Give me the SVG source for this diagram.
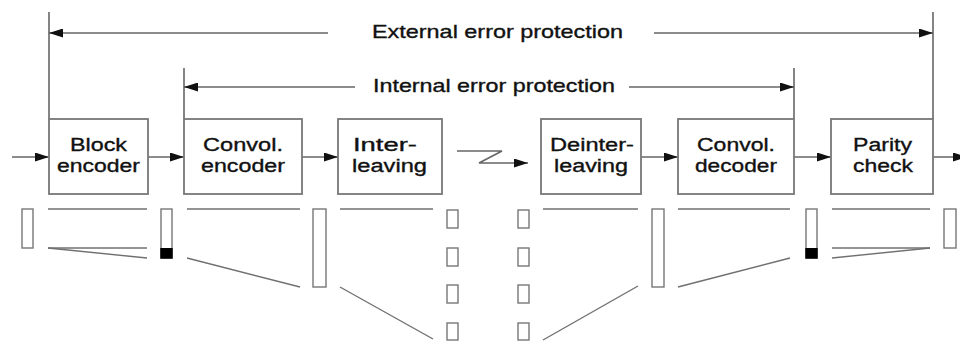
<svg xmlns="http://www.w3.org/2000/svg" width="960" height="343" viewBox="0 0 960 343">
<defs>
<marker id="ah" viewBox="0 0 14 9" refX="14" refY="4.5" markerWidth="14" markerHeight="9" markerUnits="userSpaceOnUse" orient="auto">
<path d="M0,0 L14,4.5 L0,9 Z" fill="#111"/>
</marker>
<style>
.box{fill:#fff;stroke:#777;stroke-width:1.8}
.ln{fill:none;stroke:#666;stroke-width:1.6}
.thin{fill:none;stroke:#707070;stroke-width:1.4}
.cell{fill:#fff;stroke:#777;stroke-width:1.4}
.blk{fill:#000}
.t{font-family:"Liberation Sans",Arial,sans-serif;font-size:18.8px;fill:#111;stroke:#111;stroke-width:0.35;text-anchor:middle}
.h{font-family:"Liberation Sans",Arial,sans-serif;font-size:19px;fill:#111;stroke:#111;stroke-width:0.35}
</style>
</defs>
<rect width="960" height="343" fill="#fff"/>
<g id="connectors">
<line class="ln" x1="49" y1="12" x2="49" y2="119"/>
<line class="ln" x1="933" y1="12" x2="933" y2="119"/>
<line class="ln" x1="184" y1="68" x2="184" y2="119"/>
<line class="ln" x1="794" y1="68" x2="794" y2="119"/>
<line class="ln" x1="328" y1="33" x2="49" y2="33" marker-end="url(#ah)"/>
<line class="ln" x1="654" y1="33" x2="933" y2="33" marker-end="url(#ah)"/>
<line class="ln" x1="355" y1="87" x2="184" y2="87" marker-end="url(#ah)"/>
<line class="ln" x1="629" y1="87" x2="794" y2="87" marker-end="url(#ah)"/>
<line class="ln" x1="12" y1="157" x2="49" y2="157" marker-end="url(#ah)"/>
<line class="ln" x1="148" y1="157" x2="184" y2="157" marker-end="url(#ah)"/>
<line class="ln" x1="302" y1="157" x2="338" y2="157" marker-end="url(#ah)"/>
<polyline class="ln" points="457,151 502,151 479,163 528,163" marker-end="url(#ah)"/>
<line class="ln" x1="641" y1="157" x2="678" y2="157" marker-end="url(#ah)"/>
<line class="ln" x1="794" y1="157" x2="831" y2="157" marker-end="url(#ah)"/>
<line class="ln" x1="933" y1="157" x2="967" y2="157" marker-end="url(#ah)"/>
</g>
<g id="label-external">
<text class="h" x="372" y="38" textLength="251" lengthAdjust="spacingAndGlyphs">External error protection</text>
</g>
<g id="label-internal">
<text class="h" x="373" y="92" textLength="242" lengthAdjust="spacingAndGlyphs">Internal error protection</text>
</g>
<g id="block-encoder">
<rect class="box" x="49" y="119" width="99" height="75"/>
<text class="t" x="98.5" y="151" textLength="57" lengthAdjust="spacingAndGlyphs">Block</text>
<text class="t" x="98.5" y="172" textLength="83" lengthAdjust="spacingAndGlyphs">encoder</text>
</g>
<g id="convol-encoder">
<rect class="box" x="184" y="119" width="118" height="75"/>
<text class="t" x="243" y="151" textLength="80" lengthAdjust="spacingAndGlyphs">Convol.</text>
<text class="t" x="243" y="172" textLength="84" lengthAdjust="spacingAndGlyphs">encoder</text>
</g>
<g id="interleaving">
<rect class="box" x="338" y="119" width="104" height="75"/>
<text class="t" x="385" y="151" textLength="64" lengthAdjust="spacingAndGlyphs">Inter-</text>
<text class="t" x="389.5" y="172" textLength="75" lengthAdjust="spacingAndGlyphs">leaving</text>
</g>
<g id="deinterleaving">
<rect class="box" x="541" y="119" width="100" height="75"/>
<text class="t" x="592" y="151" textLength="84" lengthAdjust="spacingAndGlyphs">Deinter-</text>
<text class="t" x="591" y="172" textLength="74" lengthAdjust="spacingAndGlyphs">leaving</text>
</g>
<g id="convol-decoder">
<rect class="box" x="678" y="119" width="116" height="75"/>
<text class="t" x="736" y="151" textLength="78" lengthAdjust="spacingAndGlyphs">Convol.</text>
<text class="t" x="736" y="172" textLength="82" lengthAdjust="spacingAndGlyphs">decoder</text>
</g>
<g id="parity-check">
<rect class="box" x="831" y="119" width="102" height="75"/>
<text class="t" x="882.5" y="151" textLength="59" lengthAdjust="spacingAndGlyphs">Parity</text>
<text class="t" x="883" y="172" textLength="60" lengthAdjust="spacingAndGlyphs">check</text>
</g>
<g id="data-blocks">
<rect class="cell" x="22" y="209" width="11" height="39"/>
<line class="thin" x1="48" y1="209" x2="147" y2="209"/>
<line class="thin" x1="48" y1="248" x2="147" y2="248"/>
<line class="thin" x1="48" y1="248" x2="147" y2="258"/>
<rect class="cell" x="161" y="209" width="11" height="49"/>
<rect class="blk" x="160.3" y="248" width="12.4" height="10.7"/>
<line class="thin" x1="187" y1="209" x2="300" y2="209"/>
<line class="thin" x1="187" y1="258" x2="300" y2="287"/>
<rect class="cell" x="313" y="209" width="13" height="78"/>
<line class="thin" x1="340" y1="209" x2="433" y2="209"/>
<line class="thin" x1="340" y1="287" x2="433" y2="339"/>
<rect class="cell" x="447" y="210" width="11" height="18"/>
<rect class="cell" x="447" y="248" width="11" height="18"/>
<rect class="cell" x="447" y="285" width="11" height="18"/>
<rect class="cell" x="447" y="323" width="11" height="17"/>
<rect class="cell" x="518" y="210" width="11" height="18"/>
<rect class="cell" x="518" y="248" width="11" height="18"/>
<rect class="cell" x="518" y="285" width="11" height="18"/>
<rect class="cell" x="518" y="323" width="11" height="17"/>
<line class="thin" x1="543" y1="209" x2="638" y2="209"/>
<line class="thin" x1="543" y1="340" x2="638" y2="286"/>
<rect class="cell" x="652" y="209" width="12" height="78"/>
<line class="thin" x1="678" y1="209" x2="790" y2="209"/>
<line class="thin" x1="678" y1="287" x2="790" y2="258"/>
<rect class="cell" x="806" y="209" width="11" height="49"/>
<rect class="blk" x="805.3" y="248" width="12.4" height="10.7"/>
<line class="thin" x1="832" y1="209" x2="930" y2="209"/>
<line class="thin" x1="832" y1="248" x2="930" y2="248"/>
<line class="thin" x1="832" y1="258" x2="930" y2="248"/>
<rect class="cell" x="944" y="209" width="12" height="39"/>
</g>
</svg>
